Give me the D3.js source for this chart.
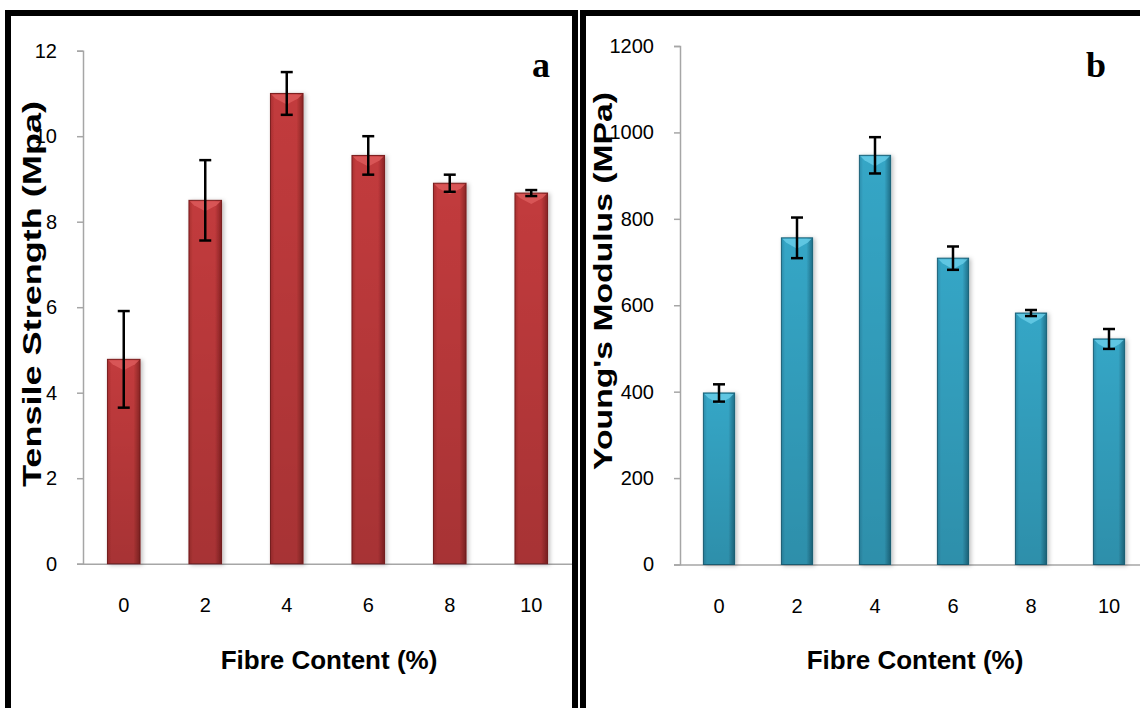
<!DOCTYPE html>
<html>
<head>
<meta charset="utf-8">
<script src="https://cdn.jsdelivr.net/npm/d3@7"></script>
<style>
  body { margin: 0; background: #fff; }
  svg { display: block; }
  .tick text { font-family: "Liberation Sans", Arial, sans-serif; fill: #000; }
  .axtitle { font-family: "Liberation Sans", Arial, sans-serif; font-weight: bold; fill: #000; }
</style>
</head>
<body>
<div id="viz"></div>
<script>
var fibre = ["0", "2", "4", "6", "8", "10"];
var tensile = [4.78, 8.5, 11.0, 9.55, 8.9, 8.67];
var tensileErr = [1.13, 0.94, 0.5, 0.45, 0.2, 0.07];
var tensileTicks = [0, 2, 4, 6, 8, 10, 12];
var modulus = [397, 756, 947, 709, 582, 522];
var modulusErr = [20, 47, 42, 27, 7, 23];
var modulusTicks = [0, 200, 400, 600, 800, 1000, 1200];

var W = 1140, H = 708;

var svg = d3.select('#viz').append('svg')
  .attr('width', W)
  .attr('height', H);

var defs = svg.append('defs');

// bar shading, edge dark -> centre light -> edge dark
function addGrad(id, edge, mid, dark) {
  var g = defs.append('linearGradient').attr('id', id)
    .attr('x1', 0).attr('x2', 1).attr('y1', 0).attr('y2', 0);
  g.append('stop').attr('offset', '0%').attr('stop-color', edge);
  g.append('stop').attr('offset', '12%').attr('stop-color', mid);
  g.append('stop').attr('offset', '80%').attr('stop-color', mid);
  g.append('stop').attr('offset', '100%').attr('stop-color', dark);
}
addGrad('redGrad', '#a93031', '#c23b3c', '#8a2425');
addGrad('tealGrad', '#2a8fae', '#36a6c6', '#1f6f88');

var vshade = defs.append('linearGradient').attr('id', 'vshade')
  .attr('x1', 0).attr('x2', 0).attr('y1', 0).attr('y2', 1);
vshade.append('stop').attr('offset', '0%').attr('stop-color', '#000').attr('stop-opacity', 0);
vshade.append('stop').attr('offset', '100%').attr('stop-color', '#000').attr('stop-opacity', 0.14);

var shadow = defs.append('filter').attr('id', 'shadow')
  .attr('x', '-30%').attr('y', '-5%').attr('width', '160%').attr('height', '110%');
shadow.append('feDropShadow').attr('dx', 2).attr('dy', 1).attr('stdDeviation', 2)
  .attr('flood-color', '#000').attr('flood-opacity', 0.25);

function panel(opt) {
  var g = svg.append('g');

  var x = d3.scaleBand().domain(fibre).range(opt.xr);
  var y = d3.scaleLinear().domain([0, opt.max]).range(opt.yr);

  // axes
  var yAxis = g.append('g')
    .attr('transform', 'translate(' + opt.xr[0] + ',0)')
    .call(d3.axisLeft(y).tickValues(opt.ticks).tickFormat(d3.format('d'))
      .tickSize(6).tickPadding(20));
  yAxis.selectAll('text').style('font-size', '20px');

  var xAxis = g.append('g')
    .attr('transform', 'translate(0,' + opt.yr[0] + ')')
    .call(d3.axisBottom(x).tickSize(0).tickPadding(34));
  xAxis.selectAll('text').style('font-size', '20px');

  g.selectAll('.domain, .tick line').attr('stroke', '#a6a6a6').attr('stroke-width', 1.5);

  var bw = x.bandwidth() * 0.4;
  var bx = function(d, i) { return x(fibre[i]) + (x.bandwidth() - bw) / 2; };

  var bars = g.append('g').selectAll('g.bar').data(opt.values).enter()
    .append('g').attr('class', 'bar');

  bars.append('rect')
    .attr('x', bx)
    .attr('y', function(d) { return y(d); })
    .attr('width', bw)
    .attr('height', function(d) { return y(0) - y(d); })
    .attr('fill', 'url(#' + opt.grad + ')')
    .attr('stroke', opt.outline)
    .attr('stroke-width', 1)
    .attr('filter', 'url(#shadow)');

  bars.append('rect')
    .attr('x', bx)
    .attr('y', function(d) { return y(d); })
    .attr('width', bw)
    .attr('height', function(d) { return y(0) - y(d); })
    .attr('fill', 'url(#vshade)');

  // bevel highlight at the top
  bars.append('path')
    .attr('d', function(d, i) {
      var x0 = bx(d, i), x1 = x0 + bw, y0 = y(d);
      return 'M' + (x0 + 1) + ',' + (y0 + 1) + 'L' + (x1 - 1) + ',' + (y0 + 1) +
        'L' + (x1 - 5) + ',' + (y0 + 5) + 'L' + (x0 + bw / 2) + ',' + (y0 + 11) +
        'L' + (x0 + 5) + ',' + (y0 + 5) + 'Z';
    })
    .attr('fill', opt.light)
    .attr('opacity', 0.85);

  // error bars
  var eb = g.append('g').selectAll('g.err').data(opt.values).enter().append('g');
  var cx = function(i) { return x(fibre[i]) + x.bandwidth() / 2; };
  eb.append('line')
    .attr('x1', function(d, i) { return cx(i); })
    .attr('x2', function(d, i) { return cx(i); })
    .attr('y1', function(d, i) { return y(d + opt.err[i]); })
    .attr('y2', function(d, i) { return y(d - opt.err[i]); });
  eb.append('line')
    .attr('x1', function(d, i) { return cx(i) - 6; })
    .attr('x2', function(d, i) { return cx(i) + 6; })
    .attr('y1', function(d, i) { return y(d + opt.err[i]); })
    .attr('y2', function(d, i) { return y(d + opt.err[i]); });
  eb.append('line')
    .attr('x1', function(d, i) { return cx(i) - 6; })
    .attr('x2', function(d, i) { return cx(i) + 6; })
    .attr('y1', function(d, i) { return y(d - opt.err[i]); })
    .attr('y2', function(d, i) { return y(d - opt.err[i]); });
  eb.selectAll('line').attr('stroke', '#000').attr('stroke-width', 2.5);

  // titles
  g.append('text').attr('class', 'axtitle')
    .attr('x', opt.xtX).attr('y', 669)
    .attr('text-anchor', 'middle')
    .style('font-size', '26px')
    .text('Fibre Content (%)');

  g.append('text').attr('class', 'axtitle')
    .attr('transform', 'translate(' + opt.ytX + ',' + opt.ytY + ') rotate(-90)')
    .attr('text-anchor', 'middle')
    .attr('textLength', opt.ytLen)
    .attr('lengthAdjust', 'spacingAndGlyphs')
    .style('font-size', '26px')
    .text(opt.ytitle);

  g.append('text')
    .attr('x', opt.tagX).attr('y', 77)
    .style('font-family', '"Liberation Serif", "Times New Roman", serif')
    .style('font-weight', 'bold')
    .style('font-size', '36px')
    .text(opt.tag);

  // panel frame
  svg.append('rect')
    .attr('x', opt.frame[0]).attr('y', 13)
    .attr('width', opt.frame[1] - opt.frame[0]).attr('height', 720)
    .attr('fill', 'none')
    .attr('stroke', '#000')
    .attr('stroke-width', 6);
}

panel({
  values: tensile, err: tensileErr, ticks: tensileTicks, max: 12,
  xr: [83, 572], yr: [563.7, 50.7],
  grad: 'redGrad', outline: '#7a1d1e', light: '#dc5a5b',
  xtX: 329, ytX: 41, ytY: 294, ytLen: 386, ytitle: 'Tensile Strength (Mpa)',
  tag: 'a', tagX: 532, frame: [8, 575]
});

panel({
  values: modulus, err: modulusErr, ticks: modulusTicks, max: 1200,
  xr: [680, 1148], yr: [564.5, 46],
  grad: 'tealGrad', outline: '#1a6279', light: '#66cbe6',
  xtX: 915, ytX: 612, ytY: 281, ytLen: 378, ytitle: "Young's Modulus (MPa)",
  tag: 'b', tagX: 1086, frame: [583, 1160]
});
</script>
</body>
</html>
